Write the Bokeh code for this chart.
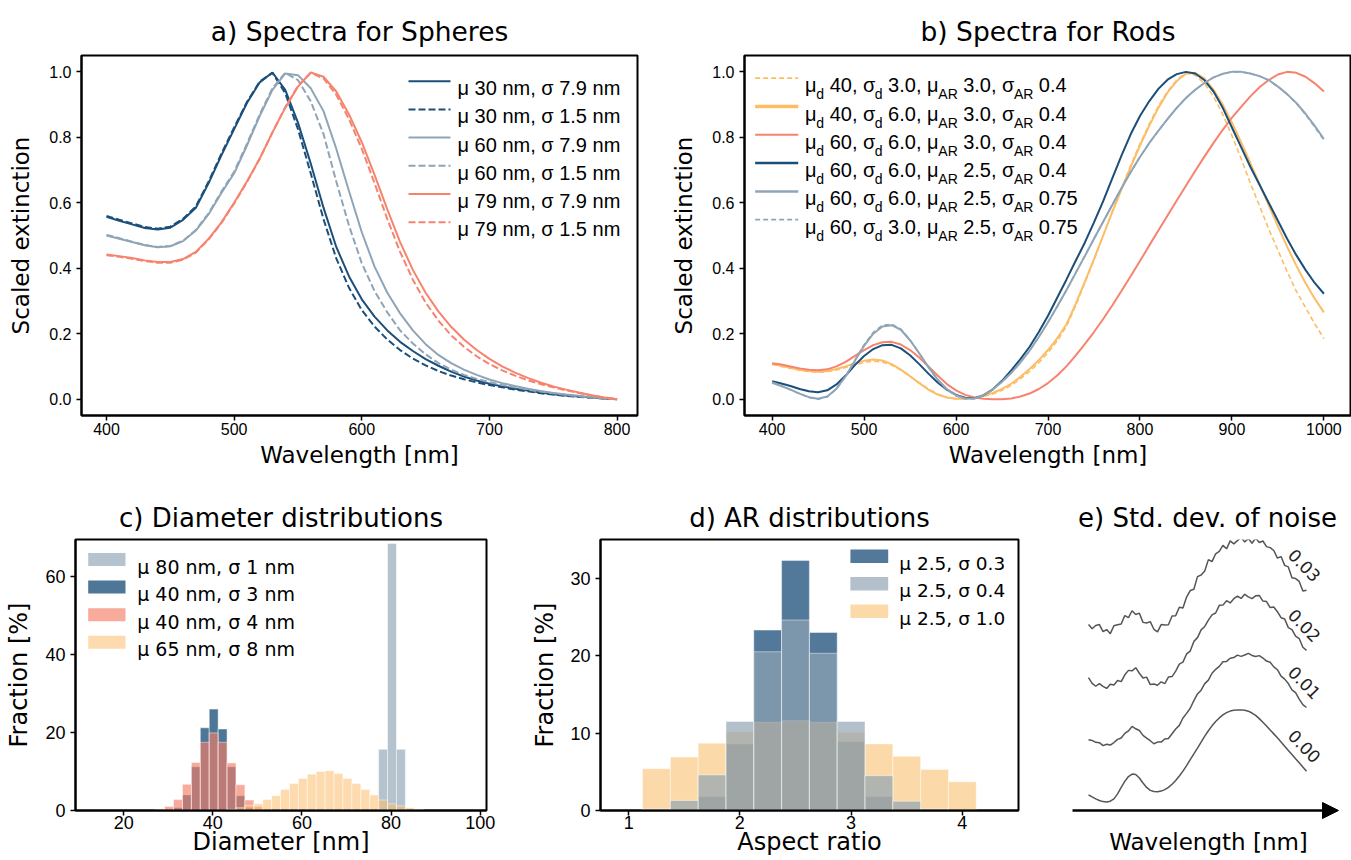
import numpy as np
from bokeh.plotting import figure
from bokeh.layouts import row, column
from bokeh.models import Range1d, FixedTicker, PrintfTickFormatter, Arrow, NormalHead
from bokeh.core.properties import value
from bokeh.embed import file_html
from bokeh.resources import INLINE

# ------------------------------------------------------------------ data
wl_sph = list(range(400, 801, 10))
sph_mu = [30, 30, 60, 60, 79, 79]
sph_sigma = [7.9, 1.5, 7.9, 1.5, 7.9, 1.5]
sph_30_79 = [.557, .545, .534, .523, .518, .524, .548, .585, .660, .745,
             .825, .905, .968, .998, .945, .845, .720, .585, .465, .375,
             .305, .252, .210, .175, .147, .122, .102, .084, .069, .057,
             .047, .039, .032, .026, .020, .015, .011, .008, .005, .002, .000]
sph_30_15 = [.560, .548, .537, .526, .521, .527, .551, .589, .665, .750,
             .830, .908, .970, .997, .935, .825, .690, .550, .430, .340,
             .272, .222, .182, .150, .124, .103, .086, .072, .061, .051,
             .043, .036, .029, .024, .018, .014, .010, .007, .004, .002, .000]
sph_60_79 = [.500, .490, .480, .470, .464, .467, .483, .515, .565, .630,
             .690, .775, .865, .945, .995, .990, .950, .880, .765, .635,
             .510, .405, .325, .262, .210, .168, .135, .110, .090, .074,
             .060, .049, .040, .032, .025, .019, .014, .010, .006, .003, .000]
sph_60_15 = [.502, .492, .481, .471, .465, .468, .484, .517, .568, .634,
             .695, .780, .870, .950, .997, .975, .910, .810, .665, .530,
             .415, .330, .265, .210, .170, .137, .110, .090, .074, .062,
             .052, .043, .036, .029, .023, .018, .013, .009, .005, .002, .000]
sph_79_79 = [.442, .437, .431, .424, .419, .419, .428, .450, .490, .540,
             .600, .665, .735, .815, .890, .955, .998, .985, .940, .870,
             .785, .685, .580, .480, .395, .325, .268, .221, .182, .150,
             .123, .100, .081, .065, .051, .039, .029, .020, .012, .005, .000]
sph_79_15 = [.440, .435, .429, .422, .417, .417, .426, .448, .488, .538,
             .598, .663, .734, .815, .892, .957, .997, .980, .930, .855,
             .765, .660, .550, .450, .365, .295, .240, .195, .160, .131,
             .107, .088, .072, .058, .046, .036, .027, .019, .011, .005, .000]

wl_rod = list(range(400, 1001, 10))
rod_mu_d = [40, 40, 60, 60, 60, 60]
rod_sig_d = ["3.0", "6.0", "6.0", "6.0", "6.0", "3.0"]
rod_mu_ar = ["3.0", "3.0", "3.0", "2.5", "2.5", "2.5"]
rod_sig_ar = ["0.4", "0.4", "0.4", "0.4", "0.75", "0.75"]
rod_40_3_30 = [.106, .100, .094, .088, .084, .082, .084, .089, .097, .105,
               .112, .116, .113, .104, .089, .070, .050, .031, .016, .006,
               .001, .001, .003, .008, .016, .027, .042, .062, .085, .111,
               .142, .178, .222, .285, .355, .425, .500, .575, .645, .715,
               .780, .840, .895, .940, .975, .997, .990, .965, .925, .870,
               .805, .735, .660, .590, .520, .455, .390, .330, .280, .230,
               .185]
rod_40_6_30 = [.108, .102, .096, .090, .086, .084, .086, .092, .100, .110,
               .117, .121, .118, .107, .090, .070, .049, .029, .014, .005,
               .001, .001, .004, .010, .019, .031, .047, .068, .092, .119,
               .150, .186, .228, .290, .358, .428, .500, .572, .642, .710,
               .775, .835, .890, .937, .972, .994, .997, .980, .945, .900,
               .845, .785, .722, .657, .592, .528, .466, .408, .355, .307,
               .265]
rod_60_6_30 = [.110, .106, .100, .094, .090, .088, .091, .100, .114, .132,
               .150, .165, .174, .175, .167, .150, .127, .100, .072, .046,
               .027, .013, .005, .001, .000, .000, .002, .008, .017, .031,
               .049, .072, .100, .133, .168, .205, .245, .287, .331, .376,
               .422, .469, .515, .561, .607, .652, .697, .741, .783, .823,
               .860, .893, .925, .953, .975, .992, 1.00, .997, .985, .965,
               .940]
rod_60_6_25 = [.055, .048, .040, .031, .024, .021, .027, .045, .072, .104,
               .132, .153, .165, .166, .155, .134, .107, .078, .051, .029,
               .013, .004, .003, .012, .030, .056, .088, .122, .160, .205,
               .255, .310, .365, .422, .478, .540, .605, .675, .745, .810,
               .865, .910, .948, .976, .993, 1.00, .995, .975, .940, .890,
               .830, .770, .710, .655, .600, .545, .490, .440, .395, .355,
               .322]
rod_60_6_25w = [.050, .040, .029, .017, .006, .001, .008, .032, .070, .117,
                .163, .200, .222, .226, .212, .180, .140, .098, .060, .031,
                .012, .002, .002, .012, .030, .053, .080, .112, .148, .190,
                .235, .283, .333, .385, .437, .490, .542, .594, .645, .694,
                .740, .782, .820, .856, .890, .920, .945, .966, .983, .994,
                1.00, 1.00, .995, .987, .975, .955, .932, .905, .872, .835,
                .795]
rod_60_3_25w = [.052, .041, .029, .016, .005, .000, .007, .031, .070, .119,
                .166, .204, .226, .229, .214, .181, .140, .097, .058, .029,
                .010, .001, .002, .012, .030, .053, .080, .112, .148, .190,
                .235, .283, .333, .385, .437, .490, .542, .594, .645, .694,
                .740, .782, .820, .856, .890, .920, .945, .966, .983, .994,
                1.00, 1.00, .995, .987, .975, .955, .932, .904, .870, .832,
                .792]

d80_x = [78.2, 80.2, 82.2]
d80_y = [15.7, 68.5, 15.7]
d40s3_x = [30.2, 32.2, 34.2, 36.2, 38.2, 40.2, 42.2, 44.2, 46.2, 48.2, 50.2]
d40s3_y = [0.1, 0.7, 4.0, 11.2, 21.2, 26.0, 20.9, 11.2, 3.8, 0.8, 0.1]
d40s4_x = [28.2, 30.2, 32.2, 34.2, 36.2, 38.2, 40.2, 42.2, 44.2, 46.2, 48.2, 50.2, 52.2]
d40s4_y = [0.4, 1.0, 2.8, 6.7, 12.3, 17.5, 19.9, 17.5, 12.2, 6.6, 2.7, 1.0, 0.4]
d65_x = [44.2, 46.2, 48.2, 50.2, 52.2, 54.2, 56.2, 58.2, 60.2, 62.2, 64.2,
         66.2, 68.2, 70.2, 72.2, 74.2, 76.2, 78.2, 80.2, 82.2, 84.2, 86.2]
d65_y = [0.3, 0.7, 1.3, 1.7, 2.8, 3.8, 5.4, 6.9, 8.2, 9.3, 10.0,
         10.2, 9.5, 8.2, 6.9, 5.4, 4.0, 2.7, 1.7, 1.2, 0.7, 0.3]
diam_labels = ["μ 80 nm, σ 1 nm", "μ 40 nm, σ 3 nm", "μ 40 nm, σ 4 nm", "μ 65 nm, σ 8 nm"]

ar_x = [1.25, 1.5, 1.75, 2.0, 2.25, 2.5, 2.75, 3.0, 3.25, 3.5, 3.75, 4.0]
ar_s03 = [0.0, 0.1, 1.8, 8.6, 23.3, 32.3, 23.0, 8.9, 1.8, 0.1, 0.0, 0.0]
ar_s04 = [0.2, 1.3, 4.6, 11.5, 20.5, 24.6, 20.3, 11.5, 4.5, 1.2, 0.2, 0.0]
ar_s10 = [5.4, 6.9, 8.7, 10.2, 11.4, 11.6, 11.4, 10.1, 8.6, 7.0, 5.3, 3.7]
ar_labels = ["μ 2.5, σ 0.3", "μ 2.5, σ 0.4", "μ 2.5, σ 1.0"]

wl_noise = list(range(400, 1001, 10))
noise_levels = [0.00, 0.01, 0.02, 0.03]
noise_base = [.080, .057, .036, .018, .006, .001, .010, .036, .090, .160,
              .225, .278, .304, .300, .262, .208, .160, .128, .115, .113,
              .120, .136, .160, .194, .235, .283, .336, .396, .460, .523,
              .585, .651, .715, .774, .827, .873, .913, .945, .970, .987,
              .996, 1.00, 1.00, .995, .986, .966, .940, .905, .866, .826,
              .783, .740, .697, .652, .606, .561, .516, .471, .426, .381,
              .336]
noise_shape = [.072, .052, .036, .022, .011, .004, .011, .030, .054, .088,
               .126, .170, .199, .185, .155, .115, .079, .048, .028, .025,
               .040, .062, .090, .127, .170, .225, .285, .350, .415, .480,
               .545, .607, .668, .723, .776, .822, .863, .895, .921, .941,
               .957, .968, .975, .980, .982, .981, .978, .966, .949, .924,
               .892, .855, .812, .765, .715, .665, .614, .560, .505, .450,
               .397]
noise_jitter = [0.4, -0.9, 1.2, -0.3, 0.8, -1.4, 0.1, 0.9, -0.7, 1.3,
                -0.2, -1.1, 0.6, 1.4, -0.8, 0.2, -1.5, 0.7, 0.3, -0.6,
                1.2, -1.0, 0.5, -0.4, 1.1, -0.9, 0.1, 1.6, -0.5, -1.3,
                0.8, -0.1, -0.9, 1.0, -0.3, 0.9, -1.4, 0.4, 0.6, -1.1,
                1.3, -0.2, -0.8, 1.5, -1.0, 0.3, -0.2, 0.9, -1.2, 1.0,
                -0.6, 0.2, 1.2, -0.7, 0.5, -1.2, 0.8, -0.4, 0.7, -0.5,
                0.2]

# ------------------------------------------------------------------ style
DARK, GRAY, SALMON, ORANGE = "#1b4f7a", "#8fa5b7", "#f7836f", "#fdbd66"
TF = "DejaVu Sans"
NF = "Liberation Sans"

PA = dict(fl=81, fr=637, ft=55, fb=415, x0=380.4, x1=816, y0=-0.05, y1=1.05)
PB = dict(fl=741, fr=1351, ft=55, fb=415, x0=370, x1=1030, y0=-0.05, y1=1.05)
PC = dict(fl=75, fr=486, ft=539, fb=810, x0=9.2, x1=101.4, y0=0, y1=69.5)
PD = dict(fl=600, fr=1018, ft=539, fb=810, x0=0.747, x1=4.505, y0=0, y1=35)
PE = dict(fl=1063, fr=1351, ft=539, fb=860, x0=331.2, x1=1123.9, y0=-0.632, y1=2.846)


def X(s, px):
    return s['x0'] + (px - s['fl']) * (s['x1'] - s['x0']) / (s['fr'] - s['fl'])


def Y(s, py):
    return s['y1'] - (py - s['ft']) * (s['y1'] - s['y0']) / (s['fb'] - s['ft'])


def make(s, cx, cy, w, h, title, tsize, tstand):
    p = figure(width=w, height=h,
               x_range=Range1d(s['x0'], s['x1']), y_range=Range1d(s['y0'], s['y1']),
               output_backend="svg", toolbar_location=None, tools="",
               min_border_left=s['fl'] - cx,
               min_border_right=cx + w - s['fr'],
               min_border_top=s['ft'] - cy,
               min_border_bottom=cy + h - s['fb'])
    try:
        p.frame_align = False
    except Exception:
        pass
    p.title.text = title
    p.title.text_font = TF
    p.title.text_font_size = f"{tsize}px"
    p.title.text_font_style = "normal"
    p.title.text_color = "black"
    p.title.align = "center"
    p.title.standoff = tstand
    p.grid.visible = False
    p.outline_line_color = "black"
    p.outline_line_width = 2
    p.outline_line_alpha = 1
    p.background_fill_color = "white"
    p.border_fill_color = "white"
    return p


def style_axes(p, xt, yt, tick_px, lab_px, xlabel, ylabel, xl_stand, yl_stand,
               xt_stand=3, yfmt=None):
    for ax in (p.xaxis[0], p.yaxis[0]):
        ax.axis_line_color = "black"
        ax.axis_line_width = 2
        ax.major_tick_line_color = "black"
        ax.major_tick_line_width = 1.5
        ax.major_tick_out = 5
        ax.major_tick_in = 0
        ax.minor_tick_line_color = None
        ax.major_label_text_font = NF
        ax.major_label_text_font_size = f"{tick_px}px"
        ax.major_label_text_color = "black"
        ax.axis_label_text_font = TF
        ax.axis_label_text_font_size = f"{lab_px}px"
        ax.axis_label_text_font_style = "normal"
        ax.axis_label_text_color = "black"
    p.xaxis.ticker = FixedTicker(ticks=xt)
    p.yaxis.ticker = FixedTicker(ticks=yt)
    if yfmt:
        p.yaxis.formatter = PrintfTickFormatter(format=yfmt)
    p.xaxis.axis_label = xlabel
    p.yaxis.axis_label = ylabel
    p.xaxis.axis_label_standoff = xl_stand
    p.yaxis.axis_label_standoff = yl_stand
    p.xaxis.major_label_standoff = xt_stand
    p.yaxis.major_label_standoff = 5


# ------------------------------------------------------------------ a)
pa = make(PA, 0, 0, 668, 488, "a) Spectra for Spheres", 26.5, 18)
style_axes(pa, [400, 500, 600, 700, 800], [0, 0.2, 0.4, 0.6, 0.8, 1.0], 16, 23,
           "Wavelength [nm]", "Scaled extinction", 4, 12, 2, "%.1f")
sph_series = [sph_30_79, sph_30_15, sph_60_79, sph_60_15, sph_79_79, sph_79_15]
sph_cols = [DARK, DARK, GRAY, GRAY, SALMON, SALMON]
for k, ys in enumerate(sph_series):
    dash = "solid" if k % 2 == 0 else "7 3"
    pa.line(wl_sph, ys, line_color=sph_cols[k], line_width=2, line_dash=dash)
ax_, ay_, at_ = [], [], []
for k in range(6):
    yc = 80.7 + 28.2 * k
    dash = "solid" if k % 2 == 0 else "7 3"
    pa.line([X(PA, 408), X(PA, 450)], [Y(PA, yc), Y(PA, yc)], line_color=sph_cols[k],
            line_width=2, line_dash=dash)
    ax_.append(X(PA, 457))
    ay_.append(Y(PA, yc + 7))
    at_.append(f"μ {sph_mu[k]} nm, σ {sph_sigma[k]} nm")
pa.text(ax_, ay_, text=at_, text_font=value(NF), text_font_size="20px",
        text_baseline="alphabetic", text_align="left", text_color="black")

# ------------------------------------------------------------------ b)
pb = make(PB, 668, 0, 683, 488, "b) Spectra for Rods", 26.5, 18)
style_axes(pb, [400, 500, 600, 700, 800, 900, 1000], [0, 0.2, 0.4, 0.6, 0.8, 1.0], 16, 23,
           "Wavelength [nm]", "Scaled extinction", 4, 12, 2, "%.1f")
rod_series = [rod_40_3_30, rod_40_6_30, rod_60_6_30, rod_60_6_25, rod_60_6_25w, rod_60_3_25w]
rod_cols = [ORANGE, ORANGE, SALMON, DARK, GRAY, GRAY]
rod_dash = ["5 3", "solid", "solid", "solid", "solid", "5 3"]
rod_w = [1.6, 2, 2, 2, 2, 1.6]
rod_legw = [1.8, 3.5, 2, 2.5, 2.5, 1.8]
for k, ys in enumerate(rod_series):
    pb.line(wl_rod, ys, line_color=rod_cols[k], line_width=rod_w[k], line_dash=rod_dash[k])

WID = {'μ': 0.576, 'σ': 0.602, ' ': 0.278, ',': 0.278, '.': 0.278,
       'd': 0.556, 'A': 0.667, 'R': 0.722}


def tw(s, fs):
    return sum(WID.get(c, 0.556) for c in s) * fs


MAIN, SUB = 20, 14
mx, my, mt, sx, sy, st = [], [], [], [], [], []
for k in range(6):
    yc = 77.7 + 28.3 * k
    pb.line([X(PB, 751.7), X(PB, 795)], [Y(PB, yc), Y(PB, yc)], line_color=rod_cols[k],
            line_width=rod_legw[k], line_dash=rod_dash[k])
    pieces = [("μ", 0), ("d", 1), (f" {rod_mu_d[k]}, σ", 0), ("d", 1),
              (f" {rod_sig_d[k]}, μ", 0), ("AR", 1), (f" {rod_mu_ar[k]}, σ", 0),
              ("AR", 1), (f" {rod_sig_ar[k]}", 0)]
    x = 801.7
    for txt, sub in pieces:
        if txt.startswith(" "):
            x += tw(" ", MAIN)
            txt = txt[1:]
        if sub:
            sx.append(X(PB, x)); sy.append(Y(PB, yc + 16)); st.append(txt)
            x += tw(txt, SUB)
        else:
            mx.append(X(PB, x)); my.append(Y(PB, yc + 7)); mt.append(txt)
            x += tw(txt, MAIN)
pb.text(mx, my, text=mt, text_font=value(NF), text_font_size=f"{MAIN}px",
        text_baseline="alphabetic", text_align="left", text_color="black")
pb.text(sx, sy, text=st, text_font=value(NF), text_font_size=f"{SUB}px",
        text_baseline="alphabetic", text_align="left", text_color="black")

# ------------------------------------------------------------------ c)
pc = make(PC, 0, 488, 528, 372, "c) Diameter distributions", 26, 13)
style_axes(pc, [20, 40, 60, 80, 100], [0, 20, 40, 60], 18, 24,
           "Diameter [nm]", "Fraction [%]", -4, 9, 0)
c_sets = [(d80_x, d80_y, "#8da3b6", 0.65), (d40s3_x, d40s3_y, DARK, 0.78),
          (d40s4_x, d40s4_y, "#f47c66", 0.65), (d65_x, d65_y, "#fbbd6b", 0.55)]
for xs, ys, col, al in c_sets:
    pc.quad(left=[v - 1 for v in xs], right=[v + 1 for v in xs], bottom=0, top=ys,
            fill_color=col, fill_alpha=al, line_color="white", line_alpha=0.45, line_width=1)
ctx, cty, ctt = [], [], []
for k, (xs, ys, col, al) in enumerate(c_sets):
    yc = 559 + 27.6 * k
    pc.quad(left=[X(PC, 87.7)], right=[X(PC, 125)], bottom=[Y(PC, yc + 6.5)], top=[Y(PC, yc - 6.5)],
            fill_color=col, fill_alpha=al, line_color=None)
    ctx.append(X(PC, 136.7)); cty.append(Y(PC, yc + 7)); ctt.append(diam_labels[k])
pc.text(ctx, cty, text=ctt, text_font=value(TF), text_font_size="19px",
        text_baseline="alphabetic", text_align="left", text_color="black")

# ------------------------------------------------------------------ d)
pd_ = make(PD, 528, 488, 535, 372, "d) AR distributions", 26, 13)
style_axes(pd_, [1, 2, 3, 4], [0, 10, 20, 30], 18, 24,
           "Aspect ratio", "Fraction [%]", -4, 8, 0)
d_style = {0: (DARK, 0.76), 1: ("#90a3b3", 0.685), 2: ("#fac479", 0.65)}
d_vals = [ar_s03, ar_s04, ar_s10]
for idx in (0, 2, 1):  # orange sits between the two blue-grey histograms
    ys = d_vals[idx]
    col, al = d_style[idx]
    xs = [x for x, y in zip(ar_x, ys) if y > 0]
    hs = [y for y in ys if y > 0]
    pd_.quad(left=[v - 0.125 for v in xs], right=[v + 0.125 for v in xs], bottom=0, top=hs,
             fill_color=col, fill_alpha=al, line_color="white", line_alpha=0.45, line_width=1)
dtx, dty, dtt = [], [], []
for k in range(3):
    col, al = d_style[k]
    yc = 555.7 + 27.5 * k
    pd_.quad(left=[X(PD, 849.9)], right=[X(PD, 887.7)], bottom=[Y(PD, yc + 6.8)], top=[Y(PD, yc - 6.8)],
             fill_color=col, fill_alpha=al, line_color=None)
    dtx.append(X(PD, 898.8)); dty.append(Y(PD, yc + 7)); dtt.append(ar_labels[k])
pd_.text(dtx, dty, text=dtt, text_font=value(TF), text_font_size="18.5px",
         text_baseline="alphabetic", text_align="left", text_color="black")

# ------------------------------------------------------------------ e)
pe = make(PE, 1063, 488, 288, 372, "e) Std. dev. of noise", 26, 13)
pe.axis.visible = False
pe.outline_line_color = None
e_offsets = [0.0, 0.614, 1.246, 1.86]
px_per_unit = (PE['fb'] - PE['ft']) / (PE['y1'] - PE['y0'])
for k, lvl in enumerate(noise_levels):
    if lvl == 0:
        ys = [v + e_offsets[k] for v in noise_base]
    else:
        jit = np.roll(noise_jitter, 17 * k)
        ys = [v + e_offsets[k] + lvl * j for v, j in zip(noise_shape, jit)]
    pe.line(wl_noise, ys, line_color="#555555", line_width=1.5)
    pe.text([X(PE, 1304)], [ys[-1] + 25 / px_per_unit], text=[f"{lvl:.2f}"], angle=-0.8,
            text_font=value(TF), text_font_size="17px", text_align="center",
            text_baseline="middle", text_color="#222222")
pe.add_layout(Arrow(end=NormalHead(size=16, fill_color="black", line_color="black"),
                    x_start=X(PE, 1072), y_start=Y(PE, 810),
                    x_end=X(PE, 1338), y_end=Y(PE, 810),
                    line_width=2.5, line_color="black"))
pe.text([X(PE, 1208)], [Y(PE, 841)], text=["Wavelength [nm]"], text_font=value(TF),
        text_font_size="23px", text_align="center", text_baseline="middle", text_color="black")

layout = column(row(pa, pb, spacing=0), row(pc, pd_, pe, spacing=0), spacing=0)
open("out.html", "w").write(file_html(layout, INLINE))
